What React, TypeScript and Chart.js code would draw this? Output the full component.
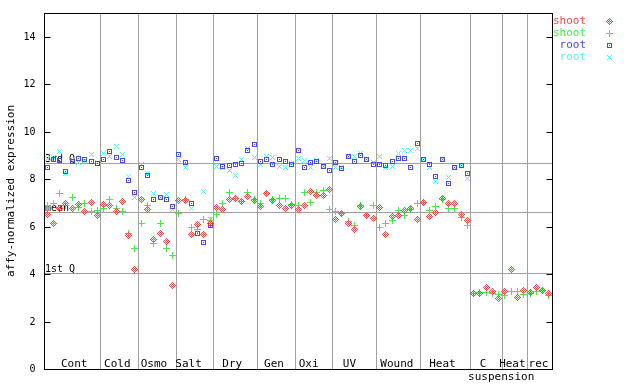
import React, { useEffect, useRef } from "react";
import { Chart, registerables } from "chart.js";

Chart.register(...registerables);

// ---------- data ----------
const groupNames = ["Cont", "Cold", "Osmo", "Salt", "Dry", "Gen", "Oxi", "UV", "Wound", "Heat", "C", "Heat", "rec"];
const groupSubNames = ["", "", "", "", "", "", "", "", "", "", "suspension", "", ""];
const groupSizes = [9, 6, 6, 6, 7, 6, 6, 7, 7, 8, 5, 4, 4];

const shootRed = [
  6.5, 6.15, 6.75, 6.96, 6.78, 6.92, 6.62, 7.02, 6.46,
  6.92, 6.88, 6.65, 7.07, 5.61, 4.18,
  7.13, 6.74, 5.44, 5.72, 5.39, 3.5,
  7.11, 7.11, 5.68, 6.1, 5.68, 6.14,
  6.82, 6.73, 7.16, 7.2, 7.07, 7.28, 7.11,
  6.86, 7.41, 7.11, 6.9, 6.78, 6.9,
  6.73, 6.9, 7.49, 7.32, 7.32, 7.58,
  6.31, 6.56, 6.14, 5.89, 6.86, 6.48, 6.35,
  6.82, 5.68, 6.44, 6.48, 6.69, 6.78, 6.31,
  7.03, 6.44, 6.61, 7.2, 6.99, 6.99, 6.53, 6.27,
  3.19, 3.19, 3.45, 3.28, 2.98,
  3.28, 4.2, 3.02, 3.32,
  3.23, 3.45, 3.32, 3.19,
];
const shootGreen = [
  6.88, 6.96, 7.38, 6.88, 7.24, 6.82, 6.99, 6.62, 6.68,
  6.76, 7.16, 6.76, 6.65, 5.72, 5.06,
  6.15, 6.9, 5.3, 6.11, 5.06, 4.8,
  6.57, 7.16, 5.97, 5.86, 6.31, 6.27,
  6.52, 6.99, 7.45, 7.2, 7.07, 7.45, 7.16,
  6.99, 7.41, 7.16, 7.2, 7.2, 6.95,
  6.91, 7.45, 7.03, 7.45, 7.53, 6.73,
  6.64, 6.56, 6.22, 6.05, 6.9, 6.48, 6.9,
  5.97, 6.14, 6.27, 6.69, 6.48, 6.73, 6.99,
  7.03, 6.69, 6.86, 7.16, 6.78, 6.78, 6.4, 6.05,
  3.18, 3.23, 3.23, 3.19, 3.15,
  3.11, 3.28, 3.28, 3.15,
  3.19, 3.28, 3.32, 3.11,
];
const rootBlue = [
  8.47, 8.81, 8.77, 8.33, 8.74, 8.88, 8.81, 8.73, 8.66,
  8.84, 9.15, 8.9, 8.77, 7.96, 7.45,
  8.5, 8.17, 7.16, 7.21, 7.13, 6.85,
  9.05, 8.71, 6.98, 5.73, 5.34, 6.03,
  8.88, 8.55, 8.59, 8.63, 8.67, 9.2, 9.48,
  8.76, 8.81, 8.63, 8.81, 8.76, 8.63,
  9.22, 8.47, 8.68, 8.73, 8.55, 8.38,
  8.71, 8.44, 8.94, 8.76, 9.01, 8.81, 8.63,
  8.63, 8.59, 8.73, 8.88, 8.88, 8.5, 9.52,
  8.84, 8.63, 8.12, 8.81, 7.83, 8.5, 8.59, 8.22,
];
const rootCyan = [
  8.85, 8.92, 9.16, 8.22, 8.84, 8.68, 8.8, 9.03, 8.68,
  9.1, 8.95, 9.38, 9.04, 8.11, 7.23,
  8.6, 8.24, 7.38, 7.22, 7.34, 6.72,
  8.81, 8.47, 6.75, 6.14, 7.48, 6.28,
  8.54, 8.47, 8.35, 8.17, 8.84, 9.31, 8.91,
  8.63, 8.94, 8.91, 8.54, 8.47, 8.66,
  8.88, 8.78, 8.51, 8.77, 8.55, 8.88,
  8.47, 8.47, 8.97, 8.94, 9.09, 8.81, 8.71,
  8.97, 8.51, 8.52, 9.09, 9.22, 9.19, 9.31,
  8.84, 8.47, 7.9, 8.81, 8.08, 8.5, 8.59, 8.04,
];

const seriesLabels = ["shoot", "shoot", "root", "root"];
const yTickValues = [0, 2, 4, 6, 8, 10, 12, 14];
const refLabels = ["3rd Q", "mean", "1st Q"];
const refValues = [8.68, 6.61, 4.06];
const yTitle = "affy-normalized expression";

// ---------- style ----------
const COLORS = ["#f04848", "#48e848", "#4848f0", "#5cf0f0"];
const KINDS = ["diamond", "plus", "square", "cross"];
const GRID = "#a0a0a0";
const FONT = "DejaVu Sans Mono";
const groupLabelShift = [2, -2, -3, -6, -3, -2, -5, -5, -1.5, -3, -3, -2, -1];

function makeMarker(kind: string, color: string): HTMLCanvasElement {
  const c = document.createElement("canvas");
  c.width = 9;
  c.height = 9;
  const g = c.getContext("2d")!;
  g.fillStyle = color;
  for (let dy = -4; dy <= 4; dy++) {
    for (let dx = -4; dx <= 4; dx++) {
      const ax = Math.abs(dx), ay = Math.abs(dy);
      let on = false;
      if (kind === "diamond") {
        const d = ax + ay;
        on = d <= 3 && d % 2 === 1;
      } else if (kind === "plus") {
        on = (dx === 0 && ay <= 3) || (dy === 0 && ax <= 3);
      } else if (kind === "square") {
        on = (Math.max(ax, ay) === 2) || (dx === 0 && dy === 0);
      } else if (kind === "cross") {
        on = ax === ay && ax <= 2;
      }
      if (on) g.fillRect(dx + 4, dy + 4, 1, 1);
    }
  }
  return c;
}

export default function App() {
  const ref = useRef<HTMLCanvasElement | null>(null);

  useEffect(() => {
    document.body.style.margin = "0";
    const canvas = ref.current!;
    const markers = KINDS.map((k, i) => makeMarker(k, COLORS[i]));
    const series = [shootRed, shootGreen, rootBlue, rootCyan];
    const total = groupSizes.reduce((a, b) => a + b, 0);

    const decorPlugin = {
      id: "decor",
      beforeDatasetsDraw(chart: any) {
        const { ctx, chartArea: a, scales } = chart;
        const xs = scales.x, ys = scales.y;
        ctx.save();
        ctx.strokeStyle = GRID;
        ctx.lineWidth = 1;
        let acc = 0;
        groupSizes.forEach((n, gi) => {
          acc += n;
          if (gi < groupSizes.length - 1) {
            const px = Math.round(xs.getPixelForValue(acc - 0.5)) + 0.5;
            ctx.beginPath();
            ctx.moveTo(px, a.top);
            ctx.lineTo(px, a.bottom);
            ctx.stroke();
          }
        });
        ctx.font = `10px "${FONT}"`;
        ctx.fillStyle = "#000";
        ctx.textAlign = "left";
        ctx.textBaseline = "alphabetic";
        refValues.forEach((v, i) => {
          const py = Math.round(ys.getPixelForValue(v)) + 0.5;
          ctx.beginPath();
          ctx.moveTo(a.left, py);
          ctx.lineTo(a.right, py);
          ctx.stroke();
          ctx.fillText(refLabels[i], a.left + 1, py - 2);
        });
        ctx.restore();
        ctx.imageSmoothingEnabled = false;
      },
      afterDraw(chart: any) {
        const { ctx, chartArea: a, scales } = chart;
        const xs = scales.x, ys = scales.y;
        ctx.save();
        ctx.imageSmoothingEnabled = false;
        // frame
        ctx.strokeStyle = "#000";
        ctx.lineWidth = 1;
        const L = Math.round(a.left) + 0.5, R = Math.round(a.right) + 0.5;
        const T = Math.round(a.top) + 0.5, B = Math.round(a.bottom) + 0.5;
        ctx.strokeRect(L, T, R - L, B - T);
        // ticks
        ctx.font = `10px "${FONT}"`;
        ctx.fillStyle = "#000";
        ctx.textAlign = "right";
        ctx.textBaseline = "middle";
        yTickValues.forEach((v) => {
          const py = Math.round(ys.getPixelForValue(v)) + 0.5;
          ctx.beginPath();
          ctx.moveTo(L, py);
          ctx.lineTo(L + 6, py);
          ctx.moveTo(R, py);
          ctx.lineTo(R - 6, py);
          ctx.stroke();
          ctx.fillText(String(v), L - 9, py);
        });
        // y title
        ctx.save();
        ctx.translate(11, (a.top + a.bottom) / 2);
        ctx.rotate(-Math.PI / 2);
        ctx.textAlign = "center";
        ctx.textBaseline = "middle";
        ctx.font = `11px "${FONT}"`;
        ctx.fillText(yTitle, 0, 0);
        ctx.restore();
        // group labels
        ctx.font = `11px "${FONT}"`;
        ctx.textAlign = "center";
        ctx.textBaseline = "alphabetic";
        let start = 0;
        groupSizes.forEach((n, gi) => {
          const x0 = xs.getPixelForValue(start - 0.5);
          const x1 = xs.getPixelForValue(start + n - 0.5);
          const cx = (x0 + x1) / 2 + groupLabelShift[gi];
          ctx.fillText(groupNames[gi], cx, a.bottom - 2);
          if (groupSubNames[gi]) ctx.fillText(groupSubNames[gi], cx + 18, a.bottom + 11);
          start += n;
        });
        // legend
        ctx.textAlign = "right";
        ctx.textBaseline = "middle";
        seriesLabels.forEach((lab, i) => {
          const yy = 21 + i * 12;
          ctx.fillStyle = COLORS[i];
          ctx.fillText(lab, 586, yy);
          ctx.drawImage(markers[i], 609 - 4, yy - 4);
        });
        ctx.restore();
      },
    };

    const chart = new Chart(canvas, {
      type: "scatter",
      data: {
        datasets: series.map((vals, i) => ({
          label: seriesLabels[i],
          data: vals.map((v, j) => ({ x: j, y: v })),
          pointStyle: markers[i] as any,
          pointRadius: 4,
          showLine: false,
        })),
      },
      options: {
        responsive: false,
        animation: false,
        devicePixelRatio: 1,
        layout: { padding: { left: 44, right: 88, top: 13, bottom: 15 } },
        plugins: { legend: { display: false }, tooltip: { enabled: false } },
        scales: {
          x: { type: "linear", min: -0.5, max: total - 0.5, display: false },
          y: { type: "linear", min: 0, max: 15, display: false },
        },
      },
      plugins: [decorPlugin],
    });
    return () => chart.destroy();
  }, []);

  return (
    <div style={{ width: 640, height: 384, background: "#fff" }}>
      <canvas ref={ref} width={640} height={384} />
    </div>
  );
}
